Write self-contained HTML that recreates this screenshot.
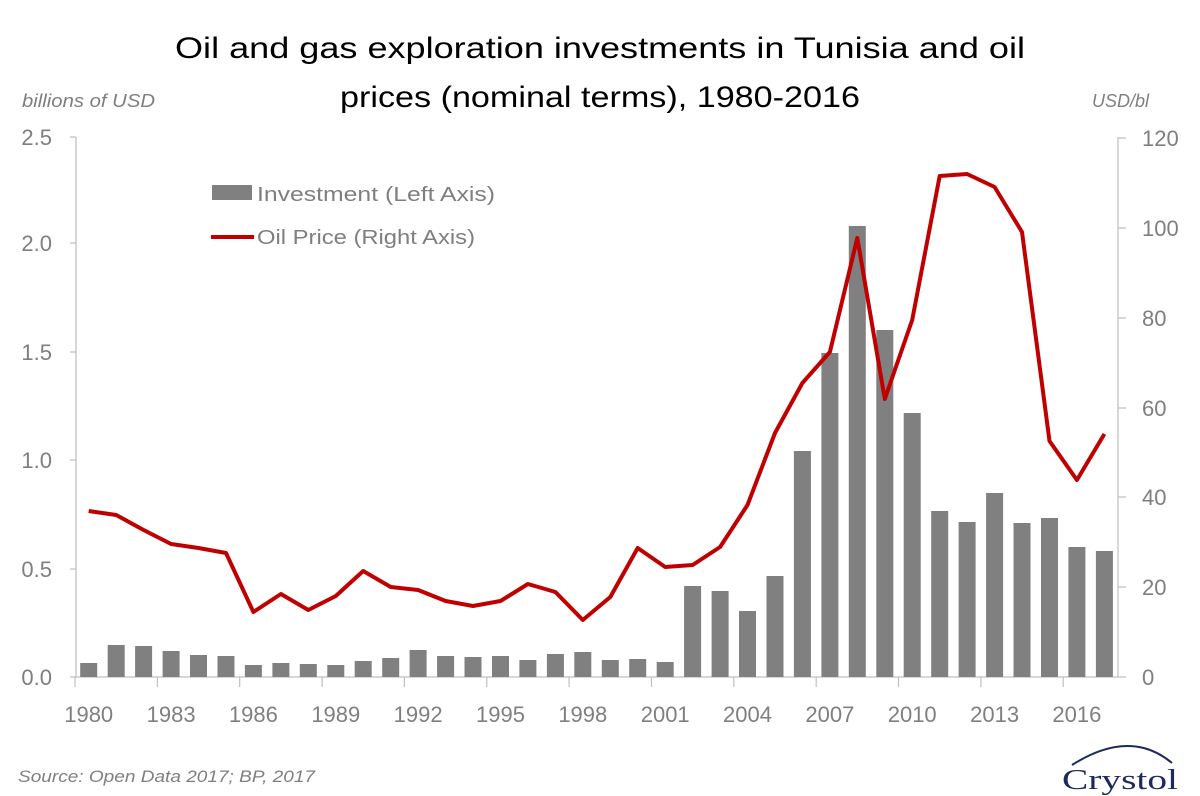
<!DOCTYPE html>
<html><head><meta charset="utf-8"><style>body{margin:0;background:#fff}svg{display:block}</style></head>
<body>
<svg width="1200" height="796" viewBox="0 0 1200 796" xmlns="http://www.w3.org/2000/svg" font-family="Liberation Sans, sans-serif">
<rect width="1200" height="796" fill="#fff"/>
<text x="600" y="58" font-size="30" text-anchor="middle" textLength="850" lengthAdjust="spacingAndGlyphs" fill="#000">Oil and gas exploration investments in Tunisia and oil</text>
<text x="600" y="107" font-size="30" text-anchor="middle" textLength="520" lengthAdjust="spacingAndGlyphs" fill="#000">prices (nominal terms), 1980-2016</text>
<text x="22" y="107" font-size="18" font-style="italic" fill="#7f7f7f" textLength="133" lengthAdjust="spacingAndGlyphs">billions of USD</text>
<text x="1092" y="107" font-size="18" font-style="italic" fill="#7f7f7f" textLength="57" lengthAdjust="spacingAndGlyphs">USD/bl</text>
<g stroke="#bfbfbf" stroke-width="1.2">
<line x1="76" y1="137" x2="76" y2="677"/>
<line x1="1118" y1="137" x2="1118" y2="677"/>
<line x1="70" y1="677" x2="1126" y2="677"/>
<line x1="70" y1="569" x2="76" y2="569"/><line x1="70" y1="460" x2="76" y2="460"/><line x1="70" y1="352" x2="76" y2="352"/><line x1="70" y1="243" x2="76" y2="243"/><line x1="70" y1="137" x2="76" y2="137"/>
<line x1="1118" y1="587" x2="1126" y2="587"/><line x1="1118" y1="497" x2="1126" y2="497"/><line x1="1118" y1="408" x2="1126" y2="408"/><line x1="1118" y1="318" x2="1126" y2="318"/><line x1="1118" y1="228" x2="1126" y2="228"/><line x1="1118" y1="138" x2="1126" y2="138"/>
<line x1="75" y1="677" x2="75" y2="687"/><line x1="157.4" y1="677" x2="157.4" y2="687"/><line x1="239.7" y1="677" x2="239.7" y2="687"/><line x1="322.1" y1="677" x2="322.1" y2="687"/><line x1="404.4" y1="677" x2="404.4" y2="687"/><line x1="486.8" y1="677" x2="486.8" y2="687"/><line x1="569.1" y1="677" x2="569.1" y2="687"/><line x1="651.5" y1="677" x2="651.5" y2="687"/><line x1="733.8" y1="677" x2="733.8" y2="687"/><line x1="816.2" y1="677" x2="816.2" y2="687"/><line x1="898.5" y1="677" x2="898.5" y2="687"/><line x1="980.9" y1="677" x2="980.9" y2="687"/><line x1="1063.2" y1="677" x2="1063.2" y2="687"/>
</g>
<g font-size="22" fill="#7f7f7f" text-anchor="end">
<text x="52" y="685">0.0</text><text x="52" y="577">0.5</text><text x="52" y="468">1.0</text><text x="52" y="360">1.5</text><text x="52" y="251">2.0</text><text x="52" y="145">2.5</text>
</g>
<g font-size="22" fill="#7f7f7f" text-anchor="start">
<text x="1142" y="685">0</text><text x="1142" y="595">20</text><text x="1142" y="505">40</text><text x="1142" y="416">60</text><text x="1142" y="326">80</text><text x="1142" y="236">100</text><text x="1142" y="146">120</text>
</g>
<g font-size="22" fill="#7f7f7f" text-anchor="middle">
<text x="88.7" y="722">1980</text><text x="171.1" y="722">1983</text><text x="253.4" y="722">1986</text><text x="335.8" y="722">1989</text><text x="418.1" y="722">1992</text><text x="500.5" y="722">1995</text><text x="582.8" y="722">1998</text><text x="665.2" y="722">2001</text><text x="747.5" y="722">2004</text><text x="829.9" y="722">2007</text><text x="912.2" y="722">2010</text><text x="994.6" y="722">2013</text><text x="1076.9" y="722">2016</text>
</g>
<g fill="#808080">
<rect x="80.2" y="663" width="17" height="14"/><rect x="107.7" y="645" width="17" height="32"/><rect x="135.1" y="646" width="17" height="31"/><rect x="162.6" y="651" width="17" height="26"/><rect x="190" y="655" width="17" height="22"/><rect x="217.5" y="656" width="17" height="21"/><rect x="244.9" y="665" width="17" height="12"/><rect x="272.4" y="663" width="17" height="14"/><rect x="299.8" y="664" width="17" height="13"/><rect x="327.3" y="665" width="17" height="12"/><rect x="354.7" y="661" width="17" height="16"/><rect x="382.2" y="658" width="17" height="19"/><rect x="409.6" y="650" width="17" height="27"/><rect x="437.1" y="656" width="17" height="21"/><rect x="464.5" y="657" width="17" height="20"/><rect x="492" y="656" width="17" height="21"/><rect x="519.4" y="660" width="17" height="17"/><rect x="546.9" y="654" width="17" height="23"/><rect x="574.3" y="652" width="17" height="25"/><rect x="601.8" y="660" width="17" height="17"/><rect x="629.2" y="659" width="17" height="18"/><rect x="656.7" y="662" width="17" height="15"/><rect x="684.1" y="586" width="17" height="91"/><rect x="711.6" y="591" width="17" height="86"/><rect x="739" y="611" width="17" height="66"/><rect x="766.5" y="576" width="17" height="101"/><rect x="793.9" y="451" width="17" height="226"/><rect x="821.4" y="353" width="17" height="324"/><rect x="848.8" y="226" width="17" height="451"/><rect x="876.3" y="330" width="17" height="347"/><rect x="903.7" y="413" width="17" height="264"/><rect x="931.2" y="511" width="17" height="166"/><rect x="958.6" y="522" width="17" height="155"/><rect x="986.1" y="493" width="17" height="184"/><rect x="1013.5" y="523" width="17" height="154"/><rect x="1041" y="518" width="17" height="159"/><rect x="1068.4" y="547" width="17" height="130"/><rect x="1095.9" y="551" width="17" height="126"/>
</g>
<polyline fill="none" stroke="#c00000" stroke-width="4" stroke-linejoin="round" points="88.7,511 116.2,515 143.6,530 171.1,544 198.5,548 226,553 253.4,612 280.9,594 308.3,610 335.8,596 363.2,571 390.7,587 418.1,590 445.6,601 473,606 500.5,601 527.9,584 555.4,592 582.8,620 610.3,597 637.7,548 665.2,567 692.6,565 720.1,547 747.5,505 775,433 802.4,383 829.9,352 857.3,238 884.8,399 912.2,320 939.7,176 967.1,174 994.6,187 1022,232 1049.5,441 1076.9,480 1104.4,434"/>
<rect x="212" y="185" width="40" height="15" fill="#808080"/>
<text x="257" y="201" font-size="20" fill="#7f7f7f" textLength="238" lengthAdjust="spacingAndGlyphs">Investment (Left Axis)</text>
<line x1="211" y1="237" x2="254" y2="237" stroke="#c00000" stroke-width="4"/>
<text x="257" y="244" font-size="20" fill="#7f7f7f" textLength="218" lengthAdjust="spacingAndGlyphs">Oil Price (Right Axis)</text>
<text x="18" y="782" font-size="17" font-style="italic" fill="#7f7f7f" textLength="297" lengthAdjust="spacingAndGlyphs">Source:  Open Data 2017;  BP, 2017</text>
<path d="M1072,765 Q1130,728 1172,763" fill="none" stroke="#1f2a5c" stroke-width="2"/>
<text x="1062" y="789" font-size="29" font-family="Liberation Serif, serif" fill="#1f2a5c" textLength="116" lengthAdjust="spacingAndGlyphs">Crystol</text>
</svg>
</body></html>
